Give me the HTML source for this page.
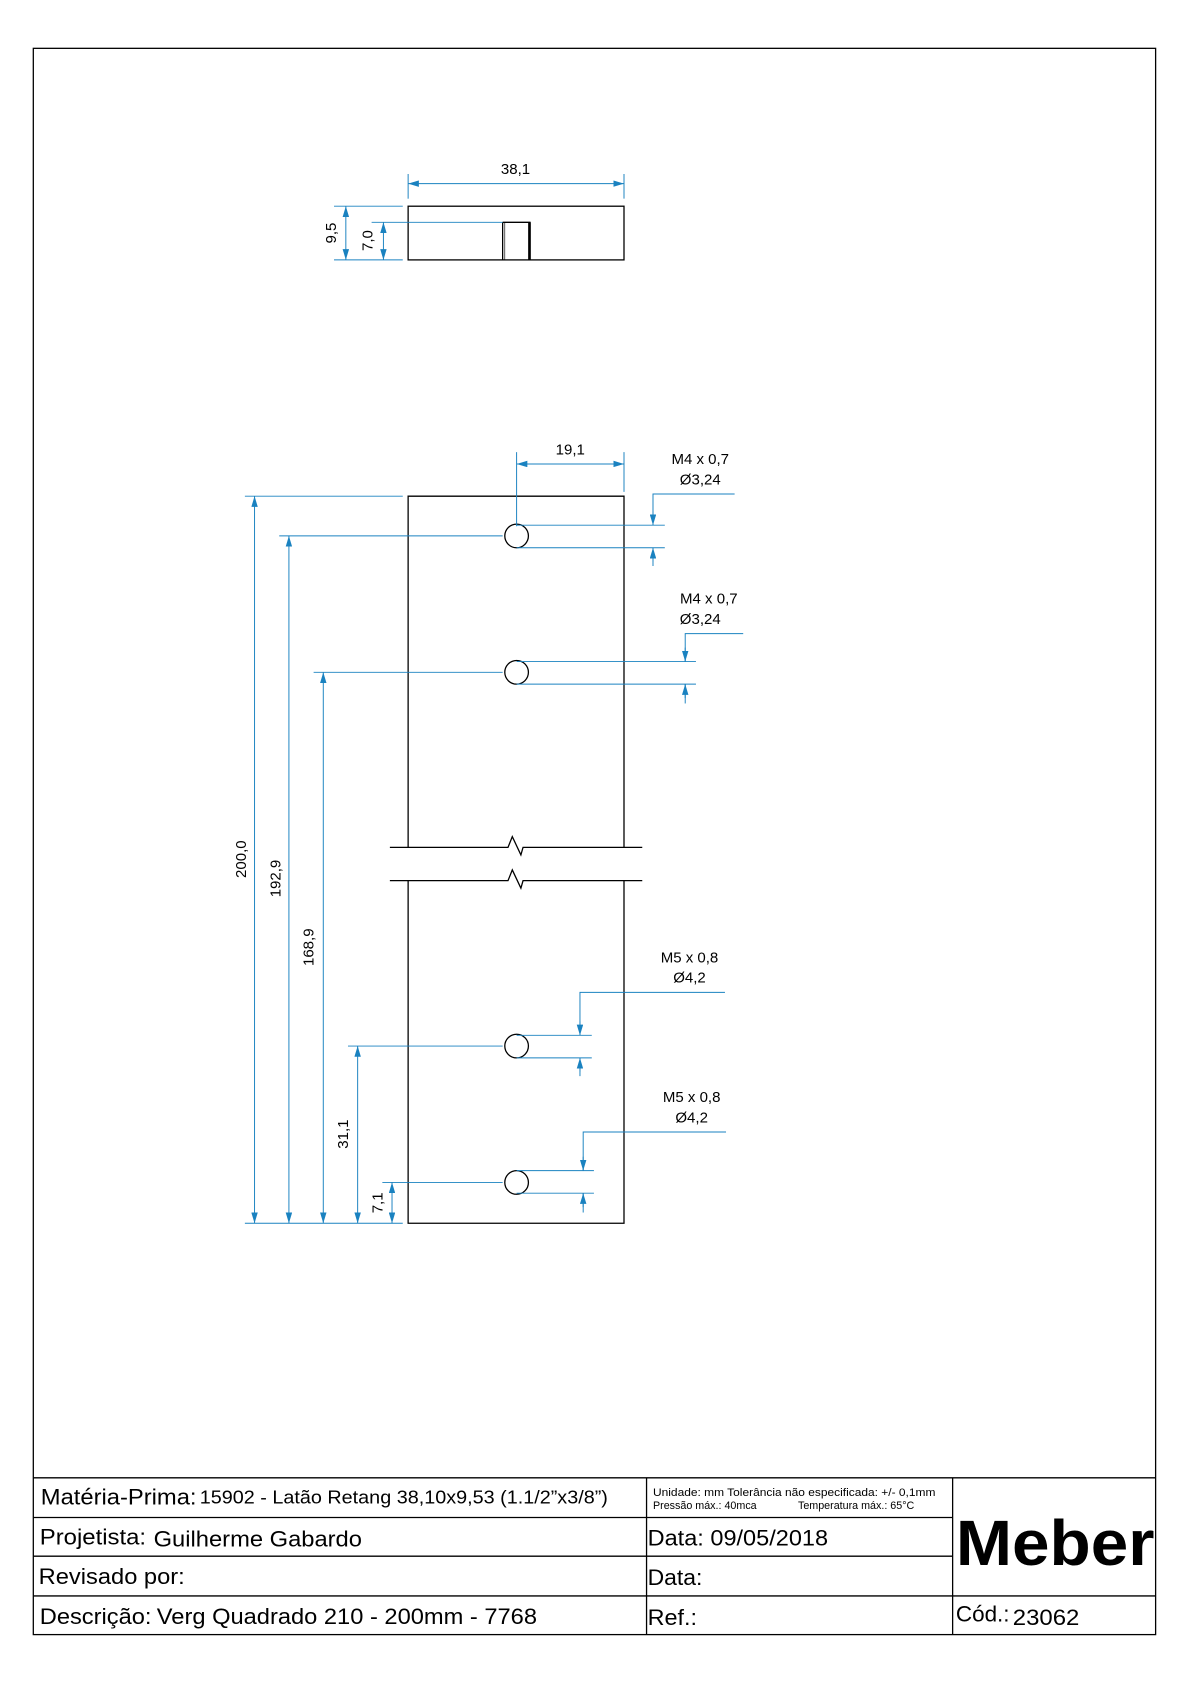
<!DOCTYPE html>
<html><head><meta charset="utf-8"><style>
html,body{margin:0;padding:0;background:#fff}
svg{display:block}
text{font-family:"Liberation Sans",sans-serif;fill:#000}
</style></head><body>
<svg width="1190" height="1684" viewBox="0 0 1108 1568" xmlns="http://www.w3.org/2000/svg">
<defs>
<marker id="a" viewBox="0 0 10 6" refX="10" refY="3" markerWidth="10" markerHeight="6" markerUnits="userSpaceOnUse" orient="auto-start-reverse"><path d="M0,0 L10,3 L0,6 Z" fill="#1a82c0"/></marker>
</defs>
<g fill="none" stroke="#000" stroke-width="1.2">
<rect x="31" y="45" width="1045" height="1477"/>
<line x1="31" y1="1376" x2="1076" y2="1376"/>
<line x1="31" y1="1413" x2="887" y2="1413"/>
<line x1="31" y1="1449" x2="887" y2="1449"/>
<line x1="31" y1="1486" x2="1076" y2="1486"/>
<line x1="602" y1="1376" x2="602" y2="1522"/>
<line x1="887" y1="1376" x2="887" y2="1522"/>
<rect x="380" y="192" width="201" height="50"/>
<line x1="468" y1="207" x2="494" y2="207"/>
<line x1="468" y1="207" x2="468" y2="242"/>
<line x1="470" y1="207" x2="470" y2="242" stroke-width="0.6"/>
<line x1="493" y1="207" x2="493" y2="242" stroke-width="2.5"/>
<polyline points="380,789 380,462 581,462 581,789"/>
<polyline points="380,820 380,1139 581,1139 581,820"/>
<polyline points="363,789 473,789 477,779 485,796 487,789 598,789"/>
<polyline points="363,820 473,820 477,810 485,827 487,820 598,820"/>
<circle cx="481" cy="499" r="11"/><circle cx="481" cy="626" r="11"/>
<circle cx="481" cy="974" r="11"/><circle cx="481" cy="1101" r="11"/>
</g>
<g fill="none" stroke="#1a82c0" stroke-width="0.9">
<line x1="380" y1="162" x2="380" y2="185"/><line x1="581" y1="162" x2="581" y2="185"/>
<line x1="380" y1="171" x2="581" y2="171" marker-start="url(#a)" marker-end="url(#a)"/>
<line x1="311" y1="192" x2="375" y2="192"/><line x1="311" y1="242" x2="375" y2="242"/>
<line x1="346" y1="207" x2="468" y2="207"/>
<line x1="322" y1="192" x2="322" y2="242" marker-start="url(#a)" marker-end="url(#a)"/>
<line x1="357" y1="207" x2="357" y2="242" marker-start="url(#a)" marker-end="url(#a)"/>
<line x1="481" y1="421" x2="481" y2="490"/><line x1="581" y1="421" x2="581" y2="458"/>
<line x1="481" y1="432" x2="581" y2="432" marker-start="url(#a)" marker-end="url(#a)"/>
<line x1="228" y1="462" x2="375" y2="462"/>
<line x1="228" y1="1139" x2="375" y2="1139"/>
<line x1="260" y1="499" x2="468" y2="499"/>
<line x1="292" y1="626" x2="468" y2="626"/>
<line x1="324" y1="974" x2="468" y2="974"/>
<line x1="356" y1="1101" x2="468" y2="1101"/>
<line x1="237" y1="462" x2="237" y2="1139" marker-start="url(#a)" marker-end="url(#a)"/>
<line x1="269" y1="499" x2="269" y2="1139" marker-start="url(#a)" marker-end="url(#a)"/>
<line x1="301" y1="626" x2="301" y2="1139" marker-start="url(#a)" marker-end="url(#a)"/>
<line x1="333" y1="974" x2="333" y2="1139" marker-start="url(#a)" marker-end="url(#a)"/>
<line x1="365" y1="1101" x2="365" y2="1139" marker-start="url(#a)" marker-end="url(#a)"/>
<line x1="481" y1="489" x2="619" y2="489"/><line x1="481" y1="510" x2="619" y2="510"/>
<polyline points="684,460 608,460 608,489"/><line x1="608" y1="489" x2="608" y2="476" marker-start="url(#a)"/>
<line x1="608" y1="510" x2="608" y2="527"/><line x1="608" y1="510" x2="608" y2="523" marker-start="url(#a)"/>
<line x1="481" y1="616" x2="648" y2="616"/><line x1="481" y1="637" x2="648" y2="637"/>
<polyline points="692,590 638,590 638,616"/><line x1="638" y1="616" x2="638" y2="603" marker-start="url(#a)"/>
<line x1="638" y1="637" x2="638" y2="655"/><line x1="638" y1="637" x2="638" y2="650" marker-start="url(#a)"/>
<line x1="481" y1="964" x2="551" y2="964"/><line x1="481" y1="985" x2="551" y2="985"/>
<polyline points="675,924 540,924 540,964"/><line x1="540" y1="964" x2="540" y2="951" marker-start="url(#a)"/>
<line x1="540" y1="985" x2="540" y2="1002"/><line x1="540" y1="985" x2="540" y2="998" marker-start="url(#a)"/>
<line x1="481" y1="1090" x2="553" y2="1090"/><line x1="481" y1="1111" x2="553" y2="1111"/>
<polyline points="676,1054 543,1054 543,1090"/><line x1="543" y1="1090" x2="543" y2="1077" marker-start="url(#a)"/>
<line x1="543" y1="1111" x2="543" y2="1129"/><line x1="543" y1="1111" x2="543" y2="1124" marker-start="url(#a)"/>
</g>
<g font-size="14" text-anchor="middle">
<text x="480" y="162">38,1</text>
<text x="531" y="423">19,1</text>
<text transform="translate(313,217) rotate(-90)">9,5</text>
<text transform="translate(347,224) rotate(-90)">7,0</text>
<text transform="translate(229,800) rotate(-90)">200,0</text>
<text transform="translate(261,818) rotate(-90)">192,9</text>
<text transform="translate(292,882) rotate(-90)">168,9</text>
<text transform="translate(324,1056) rotate(-90)">31,1</text>
<text transform="translate(356,1120) rotate(-90)">7,1</text>
<text x="652" y="432">M4 x 0,7</text><text x="652" y="451">Ø3,24</text>
<text x="660" y="562">M4 x 0,7</text><text x="652" y="581">Ø3,24</text>
<text x="642" y="896">M5 x 0,8</text><text x="642" y="915">Ø4,2</text>
<text x="644" y="1026">M5 x 0,8</text><text x="644" y="1045">Ø4,2</text>
</g>
<g lengthAdjust="spacingAndGlyphs">
<text x="38" y="1401" font-size="21" textLength="145" lengthAdjust="spacingAndGlyphs">Matéria-Prima:</text>
<text x="186" y="1400" font-size="17" textLength="380" lengthAdjust="spacingAndGlyphs">15902 - Latão Retang 38,10x9,53 (1.1/2”x3/8”)</text>
<text x="608" y="1393" font-size="10" textLength="263" lengthAdjust="spacingAndGlyphs">Unidade: mm Tolerância não especificada: +/- 0,1mm</text>
<text x="608" y="1405" font-size="10">Pressão máx.: 40mca</text>
<text x="743" y="1405" font-size="10">Temperatura máx.: 65°C</text>
<text x="37" y="1438" font-size="21" textLength="99" lengthAdjust="spacingAndGlyphs">Projetista:</text>
<text x="143" y="1440" font-size="21" textLength="194" lengthAdjust="spacingAndGlyphs">Guilherme Gabardo</text>
<text x="603" y="1439" font-size="21" textLength="168" lengthAdjust="spacingAndGlyphs">Data: 09/05/2018</text>
<text x="36" y="1475" font-size="21" textLength="136" lengthAdjust="spacingAndGlyphs">Revisado por:</text>
<text x="603" y="1476" font-size="21" textLength="51" lengthAdjust="spacingAndGlyphs">Data:</text>
<text x="37" y="1512" font-size="21" textLength="104" lengthAdjust="spacingAndGlyphs">Descrição:</text>
<text x="146" y="1512" font-size="21" textLength="354" lengthAdjust="spacingAndGlyphs">Verg Quadrado 210 - 200mm - 7768</text>
<text x="603" y="1513" font-size="21" textLength="46" lengthAdjust="spacingAndGlyphs">Ref.:</text>
<text x="890" y="1510" font-size="21" textLength="50" lengthAdjust="spacingAndGlyphs">Cód.:</text>
<text x="943" y="1513" font-size="21" textLength="62" lengthAdjust="spacingAndGlyphs">23062</text>
<text x="890" y="1457" font-size="60" font-weight="bold" textLength="185" lengthAdjust="spacingAndGlyphs">Meber</text>
</g>
</svg>
</body></html>
